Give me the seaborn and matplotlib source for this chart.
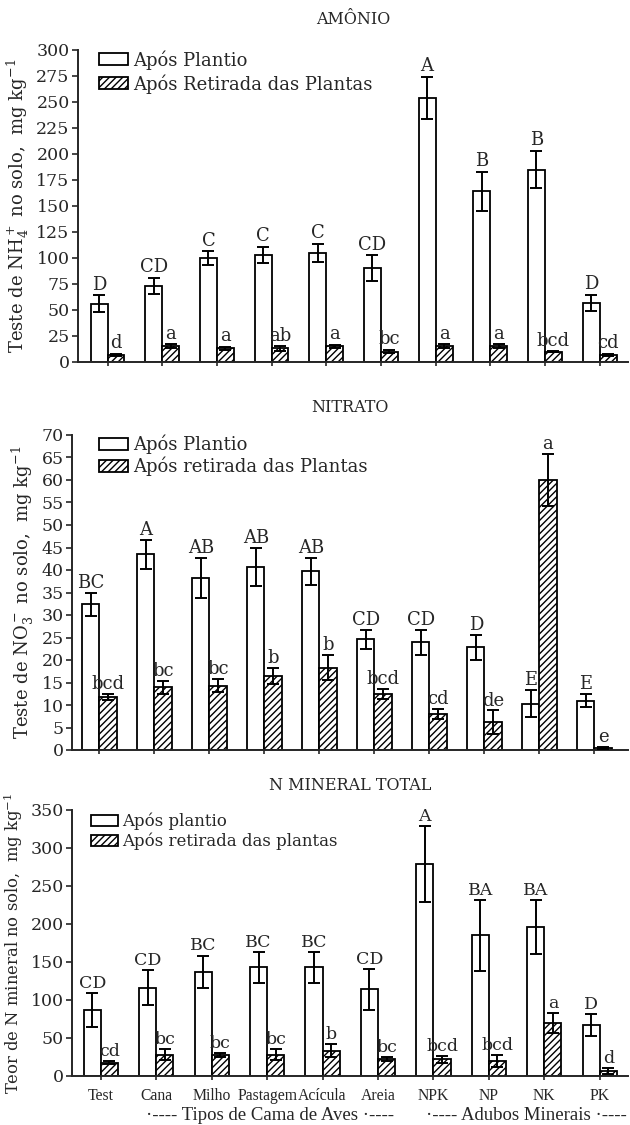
import numpy as np
import pandas as pd
import matplotlib
matplotlib.use("Agg")
import matplotlib.pyplot as plt
from matplotlib.patches import Patch
import seaborn as sns

# ---- data -------------------------------------------------------------
tratamentos = ["Test", "Cana", "Milho", "Pastagem", "Acícula", "Areia",
               "NPK", "NP", "NK", "PK"]

# Amônio (NH4+), mg kg-1
amonio_plantio = [56, 73, 100, 103, 105, 90, 254, 164, 185, 57]
amonio_plantio_err = [8, 8, 6.5, 8, 8.5, 12.5, 20, 19, 18, 7.5]
amonio_retirada = [7, 15, 13, 13, 15, 10, 15, 15, 10, 7]
amonio_retirada_err = [1, 2, 1.5, 2, 1.5, 1.5, 2, 2, 0.5, 1]
amonio_letras_plantio = ["D", "CD", "C", "C", "C", "CD", "A", "B", "B", "D"]
amonio_letras_retirada = ["d", "a", "a", "ab", "a", "bc", "a", "a", "bcd", "cd"]

# Nitrato (NO3-), mg kg-1
nitrato_plantio = [32.4, 43.5, 38.2, 40.7, 39.7, 24.6, 23.9, 22.8, 10.3, 11.0]
nitrato_plantio_err = [2.6, 3.2, 4.5, 4.3, 3.0, 2.1, 2.8, 2.8, 3.0, 1.4]
nitrato_retirada = [11.8, 13.9, 14.3, 16.5, 18.3, 12.5, 8.0, 6.2, 60.0, 0.4]
nitrato_retirada_err = [0.7, 1.5, 1.4, 1.8, 2.8, 1.1, 1.1, 2.6, 5.8, 0.2]
nitrato_letras_plantio = ["BC", "A", "AB", "AB", "AB", "CD", "CD", "D", "E", "E"]
nitrato_letras_retirada = ["bcd", "bc", "bc", "b", "b", "bcd", "cd", "de", "a", "e"]

# N mineral total, mg kg-1
total_plantio = [87, 116, 137, 143, 143, 114, 279, 185, 196, 67]
total_plantio_err = [22, 23, 21.5, 20, 20, 27, 50, 47, 35, 15]
total_retirada = [17.5, 28, 28, 28, 33, 22, 22, 20, 70, 6]
total_retirada_err = [2, 7, 2.5, 7, 8.5, 2.5, 4.5, 8, 13, 4]
total_letras_plantio = ["CD", "CD", "BC", "BC", "BC", "CD", "A", "BA", "BA", "D"]
total_letras_retirada = ["cd", "bc", "bc", "bc", "b", "bc", "bcd", "bcd", "a", "d"]

# ---- style ------------------------------------------------------------
sns.set_style("ticks")
plt.rcParams["font.family"] = ["DejaVu Serif"]
plt.rcParams["mathtext.fontset"] = "dejavuserif"
plt.rcParams["hatch.linewidth"] = 1.0
plt.rcParams["axes.linewidth"] = 1.4

W, H = 630, 1125
fig = plt.figure(figsize=(W / 100, H / 100), dpi=100)


def rect(left, right, bottom, top):
    return [left / W, 1 - bottom / H, (right - left) / W, (bottom - top) / H]


HATCH = "/////"


def painel(ax, plantio, plantio_err, retirada, retirada_err,
           letras_p, letras_r, ymax, ystep, xlim, ylabel, ylabel_fs,
           leg_labels, leg_anchor, leg_fs, leg_spacing, off, lfs):
    df = pd.DataFrame({
        "trat": tratamentos * 2,
        "fase": ["p"] * len(tratamentos) + ["r"] * len(tratamentos),
        "valor": list(plantio) + list(retirada),
    })
    sns.barplot(data=df, x="trat", y="valor", hue="fase", order=tratamentos,
                hue_order=["p", "r"], palette=["white", "white"],
                edgecolor="black", linewidth=1.3, width=0.62, gap=0,
                errorbar=None, legend=False, saturation=1, ax=ax)
    bar_containers = list(ax.containers)
    errs = [plantio_err, retirada_err]
    letras = [letras_p, letras_r]
    for k, cont in enumerate(bar_containers):
        xs, ys = [], []
        for bar in cont:
            if k == 1:
                bar.set_hatch(HATCH)
            xs.append(bar.get_x() + bar.get_width() / 2)
            ys.append(bar.get_height())
        ax.errorbar(xs, ys, yerr=errs[k], fmt="none", ecolor="black",
                    elinewidth=1.4, capsize=4, capthick=1.4, zorder=3)
        for x, y, e, t in zip(xs, ys, errs[k], letras[k]):
            ax.text(x, y + e + off, t, ha="center", va="bottom",
                    fontsize=lfs, zorder=4)
    ax.set_ylim(0, ymax)
    ax.set_xlim(*xlim)
    ax.set_yticks(np.arange(0, ymax + 1e-9, ystep))
    ax.tick_params(axis="y", direction="out", length=4, width=1.2,
                   labelsize=12.5, pad=2)
    ax.tick_params(axis="x", direction="out", length=3, width=1.2)
    ax.set_xlabel("")
    ax.set_ylabel(ylabel, fontsize=ylabel_fs, labelpad=4)
    sns.despine(ax=ax)
    handles = [Patch(facecolor="white", edgecolor="black", linewidth=1.3),
               Patch(facecolor="white", edgecolor="black", linewidth=1.3,
                     hatch=HATCH)]
    ax.legend(handles, leg_labels, loc="upper left",
              bbox_to_anchor=leg_anchor, frameon=False, fontsize=leg_fs,
              handlelength=1.6, handleheight=0.65, handletextpad=0.3,
              labelspacing=leg_spacing, borderpad=0, borderaxespad=0)


# ---- Amônio -----------------------------------------------------------
ax1 = fig.add_axes(rect(78, 628, 362, 50))
painel(ax1, amonio_plantio, amonio_plantio_err, amonio_retirada,
       amonio_retirada_err, amonio_letras_plantio, amonio_letras_retirada,
       300, 25, (-0.54, 9.52),
       r"Teste de NH$_4^+$ no solo,  mg kg$^{-1}$", 13,
       ["Após Plantio", "Após Retirada das Plantas"],
       (0.038, 1.0), 13, 0.25, 1.5, 13)
ax1.set_xticklabels([])
fig.text((78 + 628) / 2 / W, 1 - 19 / H, "AMÔNIO", ha="center",
         va="center", fontsize=11.5)

# ---- Nitrato ----------------------------------------------------------
ax2 = fig.add_axes(rect(72, 628, 750, 435))
painel(ax2, nitrato_plantio, nitrato_plantio_err, nitrato_retirada,
       nitrato_retirada_err, nitrato_letras_plantio, nitrato_letras_retirada,
       70, 5, (-0.5, 9.61),
       r"Teste de NO$_3^-$ no solo,  mg kg$^{-1}$", 13,
       ["Após Plantio", "Após retirada das Plantas"],
       (0.049, 1.0), 13, 0.12, 0.2, 13)
ax2.set_xticklabels([])
fig.text((72 + 628) / 2 / W, 1 - 408 / H, "NITRATO", ha="center",
         va="center", fontsize=11.5)

# ---- N mineral total --------------------------------------------------
ax3 = fig.add_axes(rect(72, 628, 1076, 810))
painel(ax3, total_plantio, total_plantio_err, total_retirada,
       total_retirada_err, total_letras_plantio, total_letras_retirada,
       350, 50, (-0.52, 9.51),
       r"Teor de N mineral no solo,  mg kg$^{-1}$", 11.8,
       ["Após plantio", "Após retirada das plantas"],
       (0.034, 0.99), 12, 0.15, 1.5, 12.5)
ax3.set_xticklabels(tratamentos, family="Liberation Serif", fontsize=11.3)
ax3.tick_params(axis="x", pad=6)
fig.text((72 + 628) / 2 / W, 1 - 785 / H, "N MINERAL TOTAL", ha="center",
         va="center", fontsize=11.5)

fig.text(270 / W, 1 - 1116 / H, "·---- Tipos de Cama de Aves ·----",
         ha="center", va="center", family="Liberation Serif", fontsize=13.5)
fig.text(426 / W, 1 - 1116 / H, "·---- Adubos Minerais ·----",
         ha="left", va="center", family="Liberation Serif", fontsize=13.5)

fig.savefig("out.png", dpi=100)
